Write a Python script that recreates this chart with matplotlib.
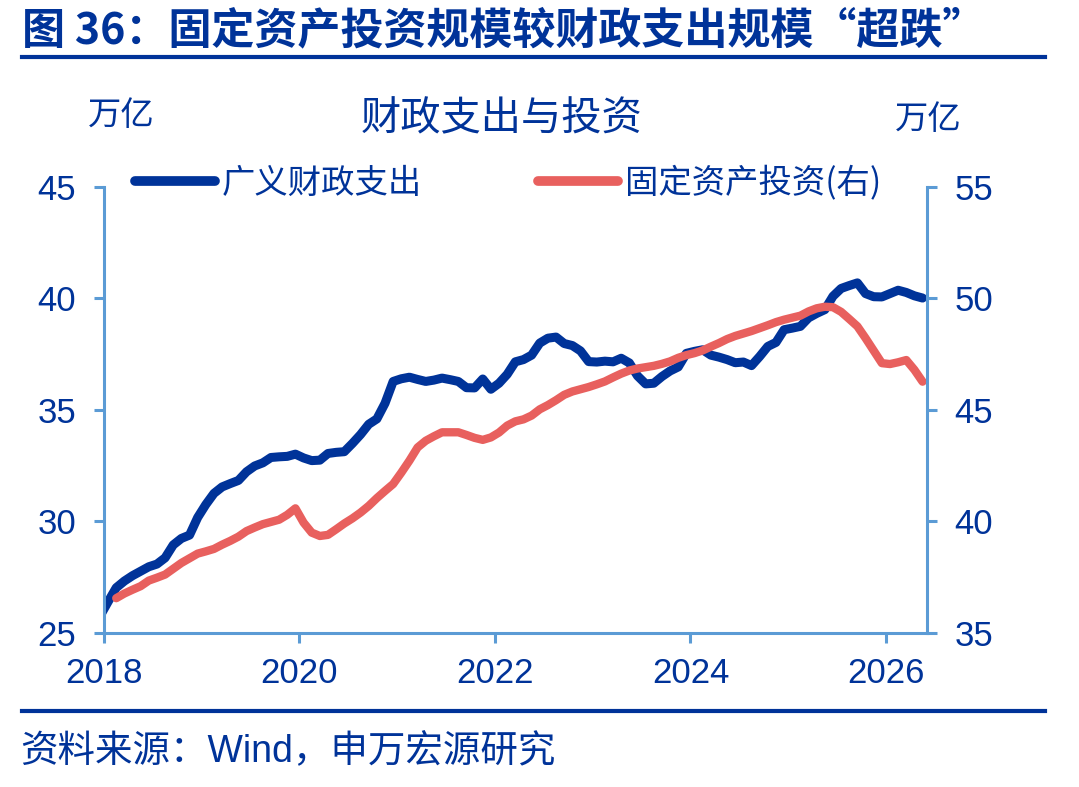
import matplotlib
matplotlib.use("Agg")
import matplotlib.pyplot as plt
from matplotlib.lines import Line2D

plt.rcParams["font.family"] = ["Noto Sans CJK SC", "DejaVu Sans"]

NAVY = "#003399"
RED = "#E8605E"
SPINE = "#5B9BD5"
NUM_FONT = ["Liberation Sans", "DejaVu Sans"]

# 广义财政支出, 万亿, monthly from 2017-12
spending = [
    25.75, 26.4, 27.03, 27.33, 27.57, 27.77, 27.97, 28.09, 28.37, 28.95, 29.24, 29.39, 30.18,
    30.76, 31.26, 31.55, 31.7, 31.84, 32.23, 32.49, 32.63, 32.87, 32.9, 32.92, 33.02,
    32.85, 32.73, 32.75, 33.05, 33.1, 33.13, 33.5, 33.9, 34.36, 34.6, 35.3, 36.28,
    36.4, 36.47, 36.37, 36.28, 36.34, 36.43, 36.36, 36.28, 36.0, 35.99, 36.39, 35.93,
    36.2, 36.6, 37.16, 37.26, 37.46, 38.0, 38.22, 38.27, 37.98, 37.89, 37.65, 37.17,
    37.15, 37.19, 37.16, 37.32, 37.11, 36.53, 36.17, 36.2, 36.5, 36.75, 36.93, 37.54,
    37.63, 37.7, 37.46, 37.37, 37.26, 37.12, 37.15, 36.99, 37.4, 37.85, 38.03, 38.6,
    38.67, 38.75, 39.13, 39.33, 39.5, 40.1, 40.45, 40.58, 40.7, 40.22, 40.08, 40.07,
    40.22, 40.37, 40.27, 40.12, 40.02,
]

# 固定资产投资, 万亿, monthly from 2018-02
investment = [
    36.56, 36.77, 36.94, 37.1, 37.35, 37.48, 37.62, 37.88, 38.14, 38.35, 38.56,
    38.66, 38.77, 38.96, 39.13, 39.32, 39.57, 39.73, 39.88, 39.98, 40.08, 40.3, 40.59,
    39.95, 39.5, 39.35, 39.4, 39.65, 39.91, 40.14, 40.4, 40.7, 41.05, 41.37, 41.68,
    42.19, 42.73, 43.32, 43.62, 43.82, 44.0, 44.0, 44.0, 43.88, 43.75, 43.66, 43.77,
    43.99, 44.3, 44.49, 44.58, 44.75, 45.03, 45.22, 45.44, 45.68, 45.83, 45.93, 46.03,
    46.15, 46.28, 46.46, 46.63, 46.77, 46.86, 46.92, 46.98, 47.07, 47.18, 47.34, 47.46,
    47.55, 47.67, 47.84, 48.0, 48.18, 48.32, 48.43, 48.54, 48.67, 48.8, 48.94, 49.05,
    49.14, 49.23, 49.42, 49.56, 49.63, 49.61, 49.4, 49.08, 48.75, 48.22, 47.66, 47.1,
    47.06, 47.14, 47.24, 46.8, 46.27,
]

year_ticks = [2018, 2020, 2022, 2024, 2026]
left_ticks = [25, 30, 35, 40, 45]
right_ticks = [35, 40, 45, 50, 55]

# mid-month positions as decimal years
spend_x = [2018 + (m + 0.5) / 12 for m in range(-1, len(spending) - 1)]
inv_x = [2018 + (m + 0.5) / 12 for m in range(1, len(investment) + 1)]

fig = plt.figure(figsize=(10.79, 7.87), dpi=100)
ax = fig.add_axes([0.0964, 0.1957, 0.7627, 0.5667])
ax2 = ax.twinx()

ax.plot(spend_x, spending, color=NAVY, lw=6.5, solid_capstyle="round", solid_joinstyle="round")
ax2.plot(inv_x, investment, color=RED, lw=6, solid_capstyle="round", solid_joinstyle="round")

ax.set_xlim(2018, 2026.42)
ax.set_ylim(25, 45)
ax2.set_ylim(35, 55)
ax.set_xticks(year_ticks)
ax.set_yticks(left_ticks)
ax2.set_yticks(right_ticks)

for a in (ax, ax2):
    for s in a.spines.values():
        s.set_color(SPINE)
        s.set_linewidth(2.2)
    a.spines["top"].set_visible(False)
ax.spines["right"].set_visible(False)
ax2.spines["left"].set_visible(False)
ax2.spines["bottom"].set_visible(False)

ax.tick_params(axis="x", direction="out", length=7, width=2.2, color=SPINE,
               labelcolor=NAVY, labelsize=25, pad=10)
ax.tick_params(axis="y", direction="out", length=7, width=2.2, color=SPINE,
               labelcolor=NAVY, labelsize=25, pad=13)
ax2.tick_params(axis="y", direction="out", length=7, width=2.2, color=SPINE,
                labelcolor=NAVY, labelsize=25, pad=13)
for lbl in ax.get_xticklabels() + ax.get_yticklabels() + ax2.get_yticklabels():
    lbl.set_fontfamily(NUM_FONT)

handles = [
    Line2D([], [], color=NAVY, lw=7, solid_capstyle="round"),
    Line2D([], [], color=RED, lw=7, solid_capstyle="round"),
]
fig.legend(handles, ["广义财政支出", "固定资产投资(右)"], loc="center left",
           bbox_to_anchor=(0.125, 0.7675), ncol=2, frameon=False, fontsize=24,
           handlelength=2.4, handletextpad=0.2, columnspacing=3.5,
           borderpad=0, borderaxespad=0, labelcolor=NAVY)

fig.text(0.0204, 1 - 30 / 787, "图 36：固定资产投资规模较财政支出规模“超跌”",
         fontsize=31, fontweight="bold", color=NAVY, va="center", ha="left")
fig.add_artist(Line2D([0.0204, 0.9685], [1 - 57 / 787] * 2, color=NAVY, lw=3))
fig.add_artist(Line2D([0.0204, 0.9685], [1 - 711 / 787] * 2, color=NAVY, lw=3))

fig.text(0.0815, 1 - 115 / 787, "万亿", fontsize=24, color=NAVY, va="center", ha="left")
fig.text(0.8295, 1 - 119 / 787, "万亿", fontsize=24, color=NAVY, va="center", ha="left")
fig.text(0.465, 1 - 119 / 787, "财政支出与投资", fontsize=29, color=NAVY, va="center", ha="center")

fig.text(0.0185, 1 - 752 / 787, "资料来源：Wind，申万宏源研究", fontsize=27, color=NAVY,
         va="center", ha="left", family=["Liberation Sans", "Noto Sans CJK SC"])

fig.savefig("out.png", dpi=100)
